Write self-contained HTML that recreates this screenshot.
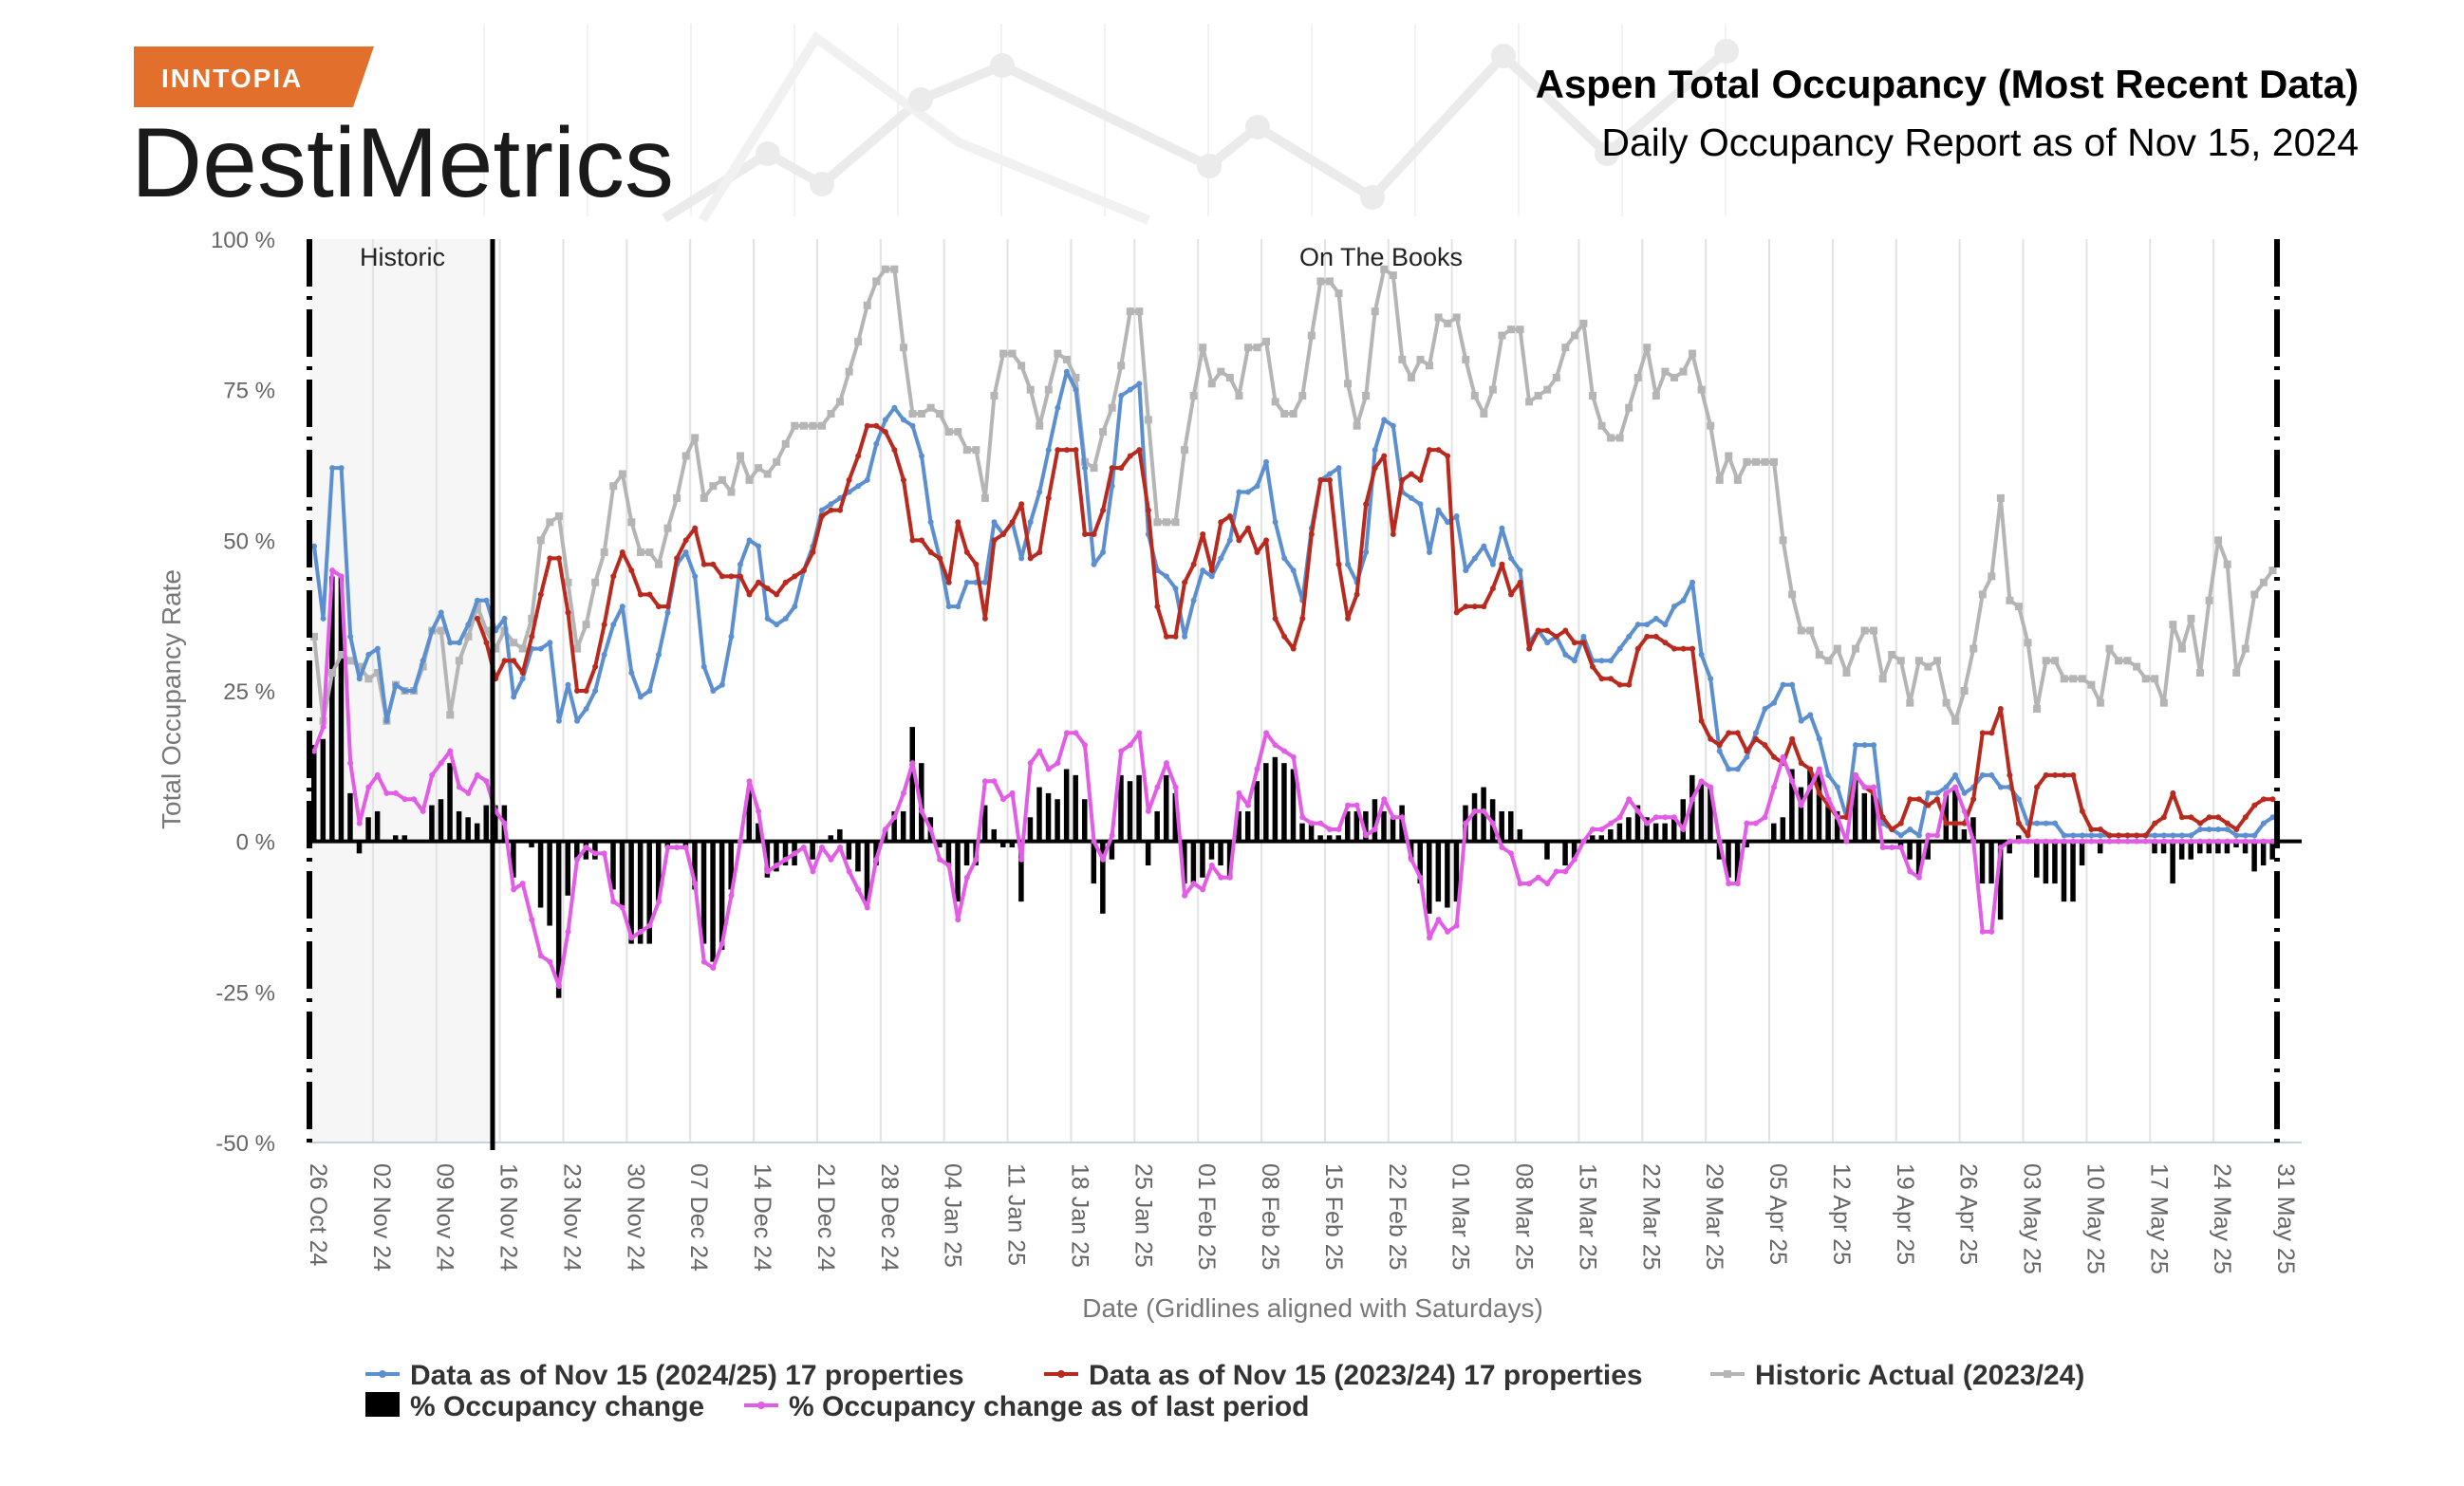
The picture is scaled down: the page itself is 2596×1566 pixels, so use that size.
<!DOCTYPE html>
<html><head><meta charset="utf-8"><style>
html,body{margin:0;padding:0;background:#fff;}
svg{display:block;font-family:"Liberation Sans",sans-serif;}
</style></head><body>
<svg id="chart" width="2596" height="1566" viewBox="0 0 2596 1566">
  <g opacity="0.55">
    <g id="hdrgrid" stroke="#e8e8e8" stroke-width="2"></g>
    <polyline points="700,230 809,162 866,194 970,105 1056,69 1274,175 1325,134 1446,208 1584,59 1693,162 1819,54" fill="none" stroke="#dcdcdc" stroke-width="10"/>
    <polyline points="740,232 860,40 1010,150 1210,232" fill="none" stroke="#e6e6e6" stroke-width="10"/>
    <g fill="#dcdcdc"><circle cx="809" cy="162" r="13"/><circle cx="866" cy="194" r="13"/><circle cx="970" cy="105" r="13"/><circle cx="1056" cy="69" r="13"/><circle cx="1274" cy="175" r="13"/><circle cx="1325" cy="134" r="13"/><circle cx="1446" cy="208" r="13"/><circle cx="1584" cy="59" r="13"/><circle cx="1693" cy="162" r="13"/><circle cx="1819" cy="54" r="13"/></g>
  </g>
  <g>
    <polygon points="141,49 394,49 372,113 141,113" fill="#e2702c"/>
    <text x="170" y="92" font-size="28" fill="#fff" font-weight="bold" letter-spacing="2">INNTOPIA</text>
  </g>
  <text x="138" y="207" font-size="104" fill="#1a1a1a">DestiMetrics</text>
  <text x="2485" y="103" text-anchor="end" font-size="42" font-weight="bold" fill="#000">Aspen Total Occupancy (Most Recent Data)</text>
  <text x="2485" y="164" text-anchor="end" font-size="41" fill="#000">Daily Occupancy Report as of Nov 15, 2024</text>
  <rect x="326" y="252" width="191" height="952" fill="#f6f6f6"/>
  <g id="grid"></g>
  <g id="axes"></g>
  <g id="marks"></g>
  <text x="424" y="280" text-anchor="middle" font-size="27" fill="#222">Historic</text>
  <text x="1455" y="280" text-anchor="middle" font-size="27" fill="#222">On The Books</text>
  <text transform="translate(190,737) rotate(-90)" text-anchor="middle" font-size="28" fill="#777">Total Occupancy Rate</text>
  <text x="1383" y="1388" text-anchor="middle" font-size="28" fill="#777">Date (Gridlines aligned with Saturdays)</text>
  <g font-size="30" font-weight="bold" fill="#333">
    <g><line x1="385" y1="1448" x2="421" y2="1448" stroke="#5b8fd0" stroke-width="4"/><circle cx="403" cy="1448" r="4" fill="#5b8fd0"/><text x="432" y="1459">Data as of Nov 15 (2024/25) 17 properties</text></g>
    <g><line x1="1100" y1="1448" x2="1136" y2="1448" stroke="#b8291e" stroke-width="4"/><circle cx="1118" cy="1448" r="4" fill="#b8291e"/><text x="1147" y="1459">Data as of Nov 15 (2023/24) 17 properties</text></g>
    <g><line x1="1802" y1="1448" x2="1838" y2="1448" stroke="#b5b5b5" stroke-width="4"/><rect x="1816" y="1444" width="8" height="8" fill="#b5b5b5"/><text x="1849" y="1459">Historic Actual (2023/24)</text></g>
    <g><rect x="385" y="1467" width="36" height="26" fill="#000"/><text x="432" y="1492">% Occupancy change</text></g>
    <g><line x1="784" y1="1481" x2="820" y2="1481" stroke="#e25ce6" stroke-width="4"/><circle cx="802" cy="1481" r="4" fill="#e25ce6"/><text x="831" y="1492">% Occupancy change as of last period</text></g>
  </g>
</svg>
<script>
const yTicks = [100, 75, 50, 25, 0, -25, -50];
const xTickLabels = ["26 Oct 24","02 Nov 24","09 Nov 24","16 Nov 24","23 Nov 24","30 Nov 24","07 Dec 24","14 Dec 24","21 Dec 24","28 Dec 24","04 Jan 25","11 Jan 25","18 Jan 25","25 Jan 25","01 Feb 25","08 Feb 25","15 Feb 25","22 Feb 25","01 Mar 25","08 Mar 25","15 Mar 25","22 Mar 25","29 Mar 25","05 Apr 25","12 Apr 25","19 Apr 25","26 Apr 25","03 May 25","10 May 25","17 May 25","24 May 25","31 May 25"];
const historicEndDay = 20.2;
const blue = [49,37,62,62,34,27,31,32,20,26,25,25,30,35,38,33,33,36,40,40,35,37,24,27,32,32,33,20,26,20,22,25,31,36,39,28,24,25,31,38,46,48,44,29,25,26,34,46,50,49,37,36,37,39,45,49,55,56,57,58,59,60,66,70,72,70,69,64,53,47,39,39,43,43,43,53,51,53,47,53,58,65,72,78,75,62,46,48,59,74,75,76,51,45,44,42,34,40,45,44,47,50,58,58,59,63,53,47,45,40,52,60,61,62,46,43,48,65,70,69,58,57,56,48,55,53,54,45,47,49,46,52,47,45,33,35,33,34,31,30,34,30,30,30,32,34,36,36,37,36,39,40,43,31,27,15,12,12,14,18,22,23,26,26,20,21,17,11,9,4,16,16,16,3,2,1,2,1,8,8,9,11,8,9,11,11,9,9,7,3,3,3,3,1,1,1,1,1,1,1,1,1,1,1,1,1,1,1,2,2,2,2,1,1,1,3,4];
const red = [null,null,null,null,null,null,null,null,null,null,null,null,null,null,null,null,null,null,37,33,27,30,30,28,34,41,47,47,38,25,25,29,36,44,48,45,41,41,39,39,47,50,52,46,46,44,44,44,41,43,42,41,43,44,45,48,54,55,55,60,64,69,69,68,65,60,50,50,48,47,43,53,48,46,37,50,51,53,56,47,48,57,65,65,65,51,51,55,62,62,64,65,55,39,34,34,43,46,51,45,53,54,50,52,48,50,37,34,32,37,51,60,60,46,37,41,56,62,64,51,60,61,60,65,65,64,38,39,39,39,42,46,41,43,32,35,35,34,35,33,33,29,27,27,26,26,32,34,34,33,32,32,32,20,17,16,18,18,15,17,16,14,13,17,13,12,8,6,4,4,11,9,8,4,2,3,7,7,6,7,3,3,3,7,18,18,22,11,3,1,9,11,11,11,11,5,2,2,1,1,1,1,1,3,4,8,4,4,3,4,4,3,2,4,6,7,7];
const gray = [34,20,28,31,30,29,27,28,20,26,25,25,29,35,35,21,30,34,39,35,32,35,33,32,37,50,53,54,43,32,36,43,48,59,61,53,48,48,46,52,57,64,67,57,59,60,58,64,60,62,61,63,66,69,69,69,69,71,73,78,83,89,93,95,95,82,71,71,72,71,68,68,65,65,57,74,81,81,79,75,69,75,81,80,77,63,62,68,72,79,88,88,70,53,53,53,65,74,82,76,78,77,74,82,82,83,73,71,71,74,84,93,93,91,76,69,74,88,95,94,80,77,80,79,87,86,87,80,74,71,75,84,85,85,73,74,75,77,82,84,86,74,69,67,67,72,77,82,74,78,77,78,81,75,69,60,64,60,63,63,63,63,50,41,35,35,31,30,32,28,32,35,35,27,31,30,23,30,29,30,23,20,25,32,41,44,57,40,39,33,22,30,30,27,27,27,26,23,32,30,30,29,27,27,23,36,32,37,28,40,50,46,28,32,41,43,45];
const magenta = [15,19,45,44,13,3,9,11,8,8,7,7,5,11,13,15,9,8,11,10,5,3,-8,-7,-13,-19,-20,-24,-15,-3,-1,-2,-2,-10,-11,-16,-15,-14,-10,-1,-1,-1,-7,-20,-21,-17,-9,0,10,5,-5,-4,-3,-2,-1,-5,-1,-3,-1,-5,-8,-11,-3,2,4,8,13,5,2,-3,-4,-13,-6,-3,10,10,7,8,-3,13,15,12,13,18,18,16,0,-3,1,15,16,18,5,9,13,9,-9,-7,-8,-4,-6,-6,8,6,12,18,16,15,14,4,3,3,2,2,6,6,1,2,7,4,4,-3,-6,-16,-13,-15,-14,3,5,5,3,-1,-2,-7,-7,-6,-7,-5,-5,-3,0,2,2,3,4,7,5,3,4,4,4,2,7,10,9,0,-7,-7,3,3,4,9,14,10,6,9,12,7,4,0,11,9,9,-1,-1,-1,-5,-6,1,1,8,9,5,0,-15,-15,-1,0,0,0,0,0,0,0,0,0,0,0,0,0,0,0,0,0,0,0,0,0,0,0,0,0,0,0,0,0,0];
const bars = [16,17,44,44,8,-2,4,5,0,1,1,0,0,6,7,13,5,4,3,6,6,6,-6,0,-1,-11,-14,-26,-9,-3,-3,-3,0,-8,-11,-17,-17,-17,-10,-1,0,-1,-8,-17,-20,-18,-8,0,9,3,-6,-5,-4,-4,0,-3,0,1,2,-3,-5,-10,-4,2,5,5,19,13,4,-1,-4,-10,-4,-4,6,2,-1,-1,-10,4,9,8,7,12,11,7,-7,-12,-3,11,10,11,-4,5,11,8,-7,-7,-6,-3,-4,-6,5,5,10,13,14,13,12,3,3,1,1,1,5,5,5,7,5,4,6,-3,-7,-12,-10,-11,-10,6,8,9,7,5,5,2,0,0,-3,0,-4,-3,0,1,1,2,3,4,6,4,3,3,4,7,11,10,9,-3,-6,-7,-1,0,0,3,4,12,9,12,12,7,5,0,11,8,8,0,0,-1,-3,-6,-3,0,8,9,2,4,-7,-7,-13,-2,1,0,-6,-7,-7,-10,-10,-4,0,-2,0,0,0,0,0,-2,-2,-7,-3,-3,-2,-2,-2,-2,-1,-2,-5,-4,-3];

const NS = "http://www.w3.org/2000/svg";
const X0 = 326, X1 = 2399, TOTAL_DAYS = 217, YTOP = 252, YBOT = 1204;
function xScale(d){ return X0 + d * (X1 - X0) / TOTAL_DAYS; }
function yScale(v){ return YBOT - (v + 50) * (YBOT - YTOP) / 150; }
function mk(tag, attrs, parent){ const e = document.createElementNS(NS, tag); for (const k in attrs) e.setAttribute(k, attrs[k]); parent.appendChild(e); return e; }

const hg = document.getElementById('hdrgrid');
for (let x = 510; x < 1900; x += 109) mk('line', {x1:x, y1:25, x2:x, y2:228}, hg);

const grid = document.getElementById('grid');
xTickLabels.forEach((lab, i) => {
  const x = xScale(i * 7);
  if (i > 0 && i < xTickLabels.length - 1) {
    const gl = mk('line', {x1:x, y1:YTOP, x2:x, y2:YBOT, stroke:'#e2e2e2', 'stroke-width':2}, grid);
    
    
  }
  const t = mk('text', {transform:`translate(${x+1},1226) rotate(90)`, 'font-size':25, fill:'#666'}, grid);
  t.textContent = lab;
  
  
});
const axes = document.getElementById('axes');
yTicks.forEach(v => {
  const t = mk('text', {x:290, y:yScale(v) + 9, 'text-anchor':'end', 'font-size':24, fill:'#666'}, axes);
  t.textContent = v + ' %';
  
  
});
const base = mk('line', {x1:X0, y1:YBOT, x2:2425, y2:YBOT, stroke:'#c5d2df', 'stroke-width':2}, axes);



const marks = document.getElementById('marks');
bars.forEach((v, d) => {
  if (v === 0) return;
  const y0 = yScale(0), y1 = yScale(v);
  const r = mk('rect', {x:xScale(d) + 2, y:Math.min(y0, y1), width:5.5, height:Math.abs(y1 - y0), fill:'#000'}, marks);
  
  
});
const zl = mk('line', {x1:X0, y1:yScale(0), x2:2425, y2:yScale(0), stroke:'#000', 'stroke-width':4}, marks);



function drawSeries(arr, color, name, square){
  const pts = [];
  arr.forEach((v, d) => { if (v !== null) pts.push([xScale(d) + 5, yScale(v)]); });
  const pl = mk('polyline', {points: pts.map(p => p.join(',')).join(' '), fill:'none', stroke:color, 'stroke-width':4, 'stroke-linejoin':'round'}, marks);
  
  
  pts.forEach(p => {
    const m = square ? mk('rect', {x:p[0]-4, y:p[1]-4, width:8, height:8, fill:color}, marks)
                     : mk('circle', {cx:p[0], cy:p[1], r:3, fill:color}, marks);
    
    
  });
}
drawSeries(gray, '#b5b5b5', 'historic-actual', true);
drawSeries(blue, '#5b8fd0', 'data-2024-25', false);
drawSeries(red, '#b8291e', 'data-2023-24', false);
drawSeries(magenta, '#e25ce6', 'change-last-period', false);

const hl = mk('line', {x1:xScale(historicEndDay), y1:YTOP, x2:xScale(historicEndDay), y2:1212, stroke:'#000', 'stroke-width':5}, marks);


[X0, X1].forEach(x => {
  const l = mk('line', {x1:x, y1:YTOP, x2:x, y2:YBOT, stroke:'#000', 'stroke-width':6, 'stroke-dasharray':'50,10,4,10'}, marks);
  
  
});
</script>
</body></html>
